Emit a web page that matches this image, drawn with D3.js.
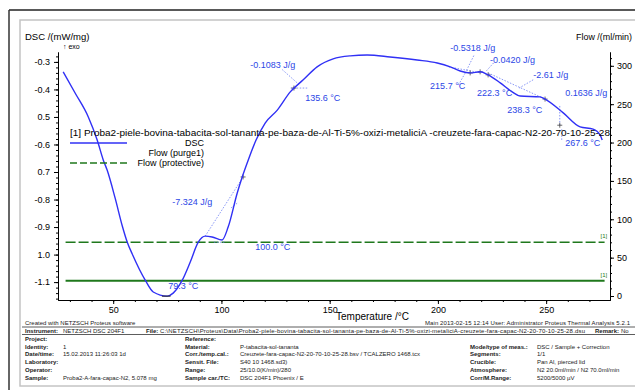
<!DOCTYPE html>
<html lang="en">
<head>
  <meta charset="UTF-8">
  <title>DSC</title>
  <script src="https://d3js.org/d3.v7.min.js"></script>
  <style>
    html, body { margin: 0; padding: 0; background: #fff; }
    svg { display: block; font-family: "Liberation Sans", Arial, sans-serif; }
    .axis path, .axis line { stroke: #000; stroke-width: 1; }
    .axis text { font-size: 9px; fill: #000; }
    .ann { font-size: 9px; fill: #2b46e6; }
    .info { font-size: 6px; fill: #222; }
    .info.b { font-weight: bold; }
  </style>
</head>
<body>
  <svg id="chart" width="635" height="390"></svg>
  <script>
    // DSC curve
    const temperature = [26.9, 32.4, 38.5, 42.6, 45.4, 47.2, 50.9, 54.2, 56.5, 58.8, 64.8, 68.5, 74.9, 77.7,
      81.9, 85.6, 89.3, 92.5, 95.7, 100.3, 103.1, 107.3, 109.6, 112.4, 116, 120.2, 125.8, 131.8, 137.8,
      144.2, 151.6, 159.5, 167.3, 177.9, 190.4, 199.7, 205.7, 210.3, 214.9, 219.5, 223.2, 228.8, 234.3,
      238.0, 247.2, 249.5, 257.9, 265.7, 271.7, 274.9, 275.9];
    const dsc = [-0.336, -0.413, -0.500, -0.584, -0.656, -0.693, -0.795, -0.896, -0.955, -0.998, -1.093,
      -1.136, -1.151, -1.140, -1.093, -1.027, -0.955, -0.933, -0.936, -0.947, -0.900, -0.776, -0.718,
      -0.656, -0.584, -0.522, -0.475, -0.409, -0.365, -0.318, -0.289, -0.278, -0.275, -0.282, -0.293,
      -0.304, -0.318, -0.333, -0.340, -0.336, -0.347, -0.376, -0.409, -0.424, -0.427, -0.435, -0.485,
      -0.536, -0.544, -0.565, -0.584];

    // gas flows (ml/min)
    const flowStart = 28, flowEnd = 277;
    const flowPurge = 20;
    const flowProtective = 70;

    // ticks
    const xTicks = [50, 100, 150, 200, 250];
    const yTicks = [-0.3, -0.4, -0.5, -0.6, -0.7, -0.8, -0.9, -1.0, -1.1];
    const yTickLabels = ["-0.3", "-0.4", "0.5", "-0.6", "0.7", "-0.8", "-0.9", "1.0", "-1.1"];
    const flowTicks = [0, 50, 100, 150, 200, 250, 300];

    // evaluation annotations: [temperature, dsc, text]
    const annText = [
      [113.3, -0.322, "-0.1083 J/g"],
      [138.7, -0.442, "135.6 °C"],
      [205.7, -0.260, "-0.5318 J/g"],
      [224.1, -0.304, "-0.0420 J/g"],
      [196.4, -0.398, "215.7 °C"],
      [218.1, -0.424, "222.3 °C"],
      [244.0, -0.358, "-2.61 J/g"],
      [232.0, -0.485, "238.3 °C"],
      [258.8, -0.424, "0.1636 J/g"],
      [258.8, -0.605, "267.6 °C"],
      [77.3, -0.820, "-7.324 J/g"],
      [115.6, -0.984, "100.0 °C"],
      [75.4, -1.125, "79.3 °C"]
    ];
    // dotted evaluation lines: [t1, v1, t2, v2]
    const annLines = [
      [92.5, -0.933, 110.0, -0.718],
      [104.5, -0.830, 107.5, -0.812],
      [128.1, -0.328, 136.4, -0.386],
      [132.0, -0.395, 140.0, -0.395],
      [216.6, -0.277, 212.9, -0.336],
      [209.5, -0.384, 212.9, -0.336],
      [205.0, -0.318, 220.0, -0.340],
      [225.7, -0.304, 222.0, -0.336],
      [223.2, -0.340, 249.5, -0.435],
      [244.0, -0.365, 237.5, -0.395],
      [96.5, -0.955, 101.5, -0.955],
      [256.3, -0.460, 256.3, -0.530],
      [257.2, -0.545, 257.2, -0.585]
    ];
    const crossMarks = [[110.0, -0.718], [214.9, -0.340], [219.5, -0.336], [223.2, -0.347],
      [249.5, -0.435], [256.3, -0.530], [133.5, -0.395]];

    // info block below the chart
    const infoLabels1 = ["Project:", "Identity:", "Date/time:", "Laboratory:", "Operator:", "Sample:"];
    const infoValues1 = ["", "1", "15.02.2013 11:26:03   1d", "", "", "Proba2-A-fara-capac-N2, 5.078 mg"];
    const infoLabels2 = ["Reference:", "Material:", "Corr./temp.cal.:", "Sensit. File:", "Range:", "Sample car./TC:"];
    const infoValues2 = ["", "P-tabacita-sol-tananta", "Creuzete-fara-capac-N2-20-70-10-25-28.bsv / TCALZERO 1468.tcx",
      "S40 10 1468.sd3)", "25/10.0(K/min)/280", "DSC 204F1 Phoenix / E"];
    const infoLabels3 = ["Mode/type of meas.:", "Segments:", "Crucible:", "Atmosphere:", "Corr/M.Range:"];
    const infoValues3 = ["DSC / Sample + Correction", "1/1", "Pan Al, pierced lid", "N2 20.0ml/min / N2 70.0ml/min", "5200/5000 µV"];

    const svg = d3.select("#chart");
    const blue = "#3030f5", green = "#1f781c";

    // frames
    svg.append("rect").attr("x", 20).attr("y", 20).attr("width", 630).attr("height", 366)
      .attr("fill", "none").attr("stroke", "#c4c4c4").attr("stroke-width", 1.5);
    svg.append("line").attr("x1", 9).attr("x2", 635).attr("y1", 10).attr("y2", 10)
      .attr("stroke", "#222").attr("stroke-width", 1.5);
    svg.append("line").attr("x1", 9).attr("x2", 9).attr("y1", 10).attr("y2", 390)
      .attr("stroke", "#333").attr("stroke-width", 1.5);

    const x = d3.scaleLinear().domain([24.5, 279.5]).range([58, 610]);
    const y = d3.scaleLinear().domain([-1.165, -0.264]).range([300, 52]);
    const yR = d3.scaleLinear().domain([-5.2, 318]).range([300, 52]);

    // axes
    svg.append("g").attr("class", "axis").attr("transform", "translate(58,0)")
      .call(d3.axisLeft(y).tickValues(yTicks).tickFormat((d, i) => yTickLabels[i]).tickSize(4).tickPadding(4).tickSizeOuter(0));
    svg.append("g").attr("class", "axis").attr("transform", "translate(58,0)")
      .call(d3.axisLeft(y).tickValues(d3.range(-1.16, -0.27, 0.02)).tickFormat("").tickSize(2).tickSizeOuter(0));
    svg.append("g").attr("class", "axis").attr("transform", "translate(0,300)")
      .call(d3.axisBottom(x).tickValues(xTicks).tickSize(4).tickPadding(3).tickSizeOuter(0));
    svg.append("g").attr("class", "axis").attr("transform", "translate(0,300)")
      .call(d3.axisBottom(x).tickValues(d3.range(30, 280, 10)).tickFormat("").tickSize(2).tickSizeOuter(0));
    svg.append("g").attr("class", "axis").attr("transform", "translate(610,0)")
      .call(d3.axisRight(yR).tickValues(flowTicks).tickSize(4).tickPadding(3).tickSizeOuter(0));
    svg.append("g").attr("class", "axis").attr("transform", "translate(610,0)")
      .call(d3.axisRight(yR).tickValues(d3.range(0, 320, 10)).tickFormat("").tickSize(2).tickSizeOuter(0));

    // axis titles
    svg.append("text").attr("x", 25).attr("y", 40).attr("font-size", 9.5).text("DSC /(mW/mg)");
    svg.append("text").attr("x", 63).attr("y", 49).attr("font-size", 7).text("↑ exo");
    svg.append("text").attr("x", 576).attr("y", 40).attr("font-size", 8.5)
      .attr("textLength", 56).attr("lengthAdjust", "spacingAndGlyphs").text("Flow /(ml/min)");
    svg.append("text").attr("x", 336).attr("y", 320).attr("font-size", 10).text("Temperature /°C");

    // flows
    svg.append("line").attr("x1", x(flowStart)).attr("x2", x(flowEnd))
      .attr("y1", yR(flowPurge)).attr("y2", yR(flowPurge))
      .attr("stroke", green).attr("stroke-width", 2);
    svg.append("line").attr("x1", x(flowStart)).attr("x2", x(flowEnd))
      .attr("y1", yR(flowProtective)).attr("y2", yR(flowProtective))
      .attr("stroke", green).attr("stroke-width", 1.5).attr("stroke-dasharray", "10,3");
    [flowPurge, flowProtective].forEach(f => {
      svg.append("text").attr("x", x(flowEnd) - 4).attr("y", yR(f) - 4)
        .attr("font-size", 6).attr("fill", green).text("[1]");
    });

    // evaluation lines
    svg.append("g").selectAll("line").data(annLines).enter().append("line")
      .attr("x1", d => x(d[0])).attr("y1", d => y(d[1]))
      .attr("x2", d => x(d[2])).attr("y2", d => y(d[3]))
      .attr("stroke", "#6a7cf2").attr("stroke-width", 0.8).attr("stroke-dasharray", "1.5,1.5");
    svg.append("g").selectAll("path").data(crossMarks).enter().append("path")
      .attr("d", d => `M${x(d[0]) - 2.5},${y(d[1])}h5M${x(d[0])},${y(d[1]) - 2.5}v5`)
      .attr("stroke", "#444").attr("stroke-width", 0.8);

    // DSC curve
    const pts = temperature.map((t, i) => [t, dsc[i]]);
    svg.append("path").datum(pts)
      .attr("fill", "none").attr("stroke", blue).attr("stroke-width", 1.4)
      .attr("d", d3.line().x(d => x(d[0])).y(d => y(d[1])).curve(d3.curveMonotoneX));

    // peak minimum mark
    svg.append("line").attr("x1", x(72.5)).attr("x2", x(76.5)).attr("y1", y(-1.151)).attr("y2", y(-1.151))
      .attr("stroke", "#222").attr("stroke-width", 1);

    svg.append("g").selectAll("text").data(annText).enter().append("text")
      .attr("class", "ann").attr("x", d => x(d[0])).attr("y", d => y(d[1])).text(d => d[2]);

    // legend
    svg.append("text").attr("x", 70).attr("y", 136).attr("font-size", 9.5)
      .attr("textLength", 540).attr("lengthAdjust", "spacingAndGlyphs")
      .text("[1] Proba2-piele-bovina-tabacita-sol-tananta-pe-baza-de-Al-Ti-5%-oxizi-metaliciA -creuzete-fara-capac-N2-20-70-10-25-28");
    svg.append("line").attr("x1", 70).attr("x2", 127).attr("y1", 143).attr("y2", 143)
      .attr("stroke", blue).attr("stroke-width", 1.4);
    svg.append("line").attr("x1", 70).attr("x2", 127).attr("y1", 163).attr("y2", 163)
      .attr("stroke", green).attr("stroke-width", 1.5).attr("stroke-dasharray", "7,3");
    [["DSC", 146], ["Flow (purge1)", 156], ["Flow (protective)", 166]].forEach(l => {
      svg.append("text").attr("x", 204).attr("y", l[1]).attr("font-size", 9)
        .attr("text-anchor", "end").text(l[0]);
    });

    // info block
    const info = svg.append("g");
    info.append("text").attr("class", "info").attr("x", 25).attr("y", 325).attr("font-size", 5).text("Created with NETZSCH Proteus software");
    info.append("text").attr("class", "info").attr("x", 425).attr("y", 325).attr("font-size", 5)
      .attr("textLength", 205).text("Main  2013-02-15 12:14   User: Administrator   Proteus Thermal Analysis 5.2.1");
    info.append("line").attr("x1", 22).attr("x2", 635).attr("y1", 327).attr("y2", 327).attr("stroke", "#333").attr("stroke-width", 0.8);
    info.append("line").attr("x1", 22).attr("x2", 635).attr("y1", 334.5).attr("y2", 334.5).attr("stroke", "#333").attr("stroke-width", 0.8);
    info.append("text").attr("class", "info b").attr("x", 25).attr("y", 333).text("Instrument:");
    info.append("text").attr("class", "info").attr("x", 63).attr("y", 333).text("NETZSCH DSC 204F1");
    info.append("text").attr("class", "info b").attr("x", 146).attr("y", 333).text("File:");
    info.append("text").attr("class", "info").attr("x", 160).attr("y", 333).attr("textLength", 425)
      .text("C:\\NETZSCH\\Proteus\\Data\\Proba2-piele-bovina-tabacita-sol-tananta-pe-baza-de-Al-Ti-5%-oxizi-metaliciA-creuzete-fara-capac-N2-20-70-10-25-28.dsu");
    info.append("text").attr("class", "info b").attr("x", 595).attr("y", 333).text("Remark:");
    info.append("text").attr("class", "info").attr("x", 621).attr("y", 333).text("No");

    const rowY = [341, 348.5, 356, 364, 372, 380];
    infoLabels1.forEach((l, i) => {
      info.append("text").attr("class", "info b").attr("x", 25).attr("y", rowY[i]).text(l);
      info.append("text").attr("class", "info").attr("x", 63).attr("y", rowY[i]).text(infoValues1[i]);
    });
    infoLabels2.forEach((l, i) => {
      info.append("text").attr("class", "info b").attr("x", 185).attr("y", rowY[i]).text(l);
      info.append("text").attr("class", "info").attr("x", 240).attr("y", rowY[i]).text(infoValues2[i]);
    });
    infoLabels3.forEach((l, i) => {
      info.append("text").attr("class", "info b").attr("x", 470).attr("y", rowY[i + 1]).text(l);
      info.append("text").attr("class", "info").attr("x", 537).attr("y", rowY[i + 1]).text(infoValues3[i]);
    });
  </script>
</body>
</html>
